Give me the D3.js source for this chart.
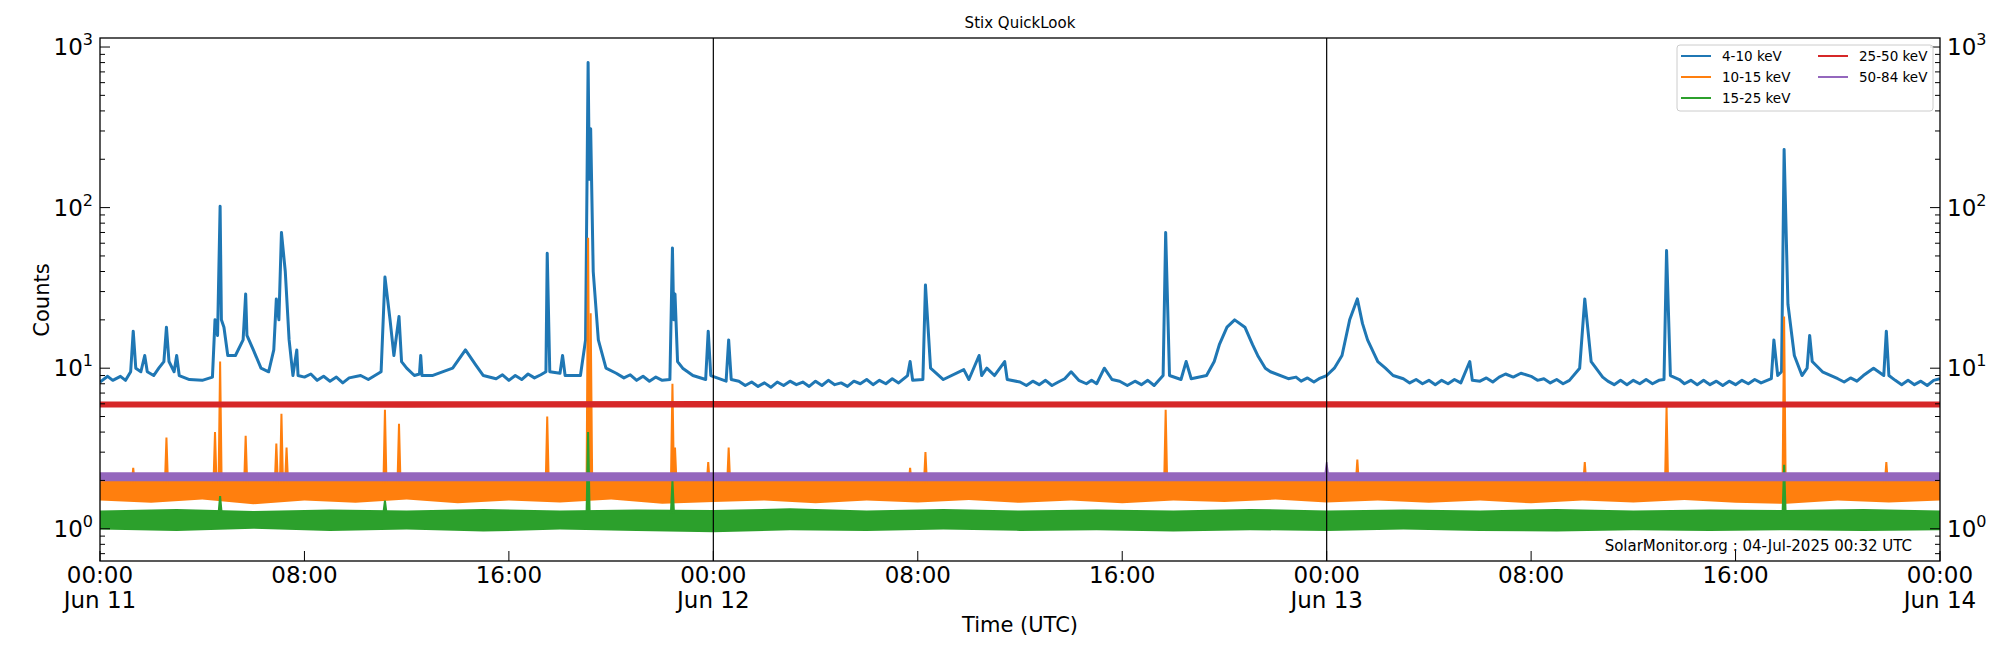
<!DOCTYPE html>
<html><head><meta charset="utf-8">
<script src="https://cdn.jsdelivr.net/npm/d3@7"></script>
<style>body{margin:0;background:#fff}svg{font-family:"DejaVu Sans",sans-serif}</style>
</head><body><svg id="c" width="2000" height="650"></svg>
<script>
const xTickHours=[0,8,16,24,32,40,48,56,64,72];
const xTickLabels=["00:00\nJun 11","08:00","16:00","00:00\nJun 12","08:00","16:00","00:00\nJun 13","08:00","16:00","00:00\nJun 14"];
const dayLines=[24,48];
const seriesNames=["4-10 keV","10-15 keV","15-25 keV","25-50 keV","50-84 keV"];
const seriesColors=["#1f77b4","#ff7f0e","#2ca02c","#d62728","#9467bd"];
// 4-10 keV events [hour, counts]
const blueEvents=[[0,8.2],[0.3,8.9],[0.5,8.4],[0.8,8.9],[1.0,8.4],[1.2,9.5],[1.3,17],[1.4,10],[1.6,9.5],[1.75,12],[1.85,9.5],[2.1,9],[2.3,10],[2.5,11],[2.6,18],[2.7,11],[2.9,9.5],[3.0,12],[3.1,9],[3.5,8.5],[4.0,8.4],[4.4,8.8],[4.5,20],[4.6,16],[4.7,102],[4.75,20],[4.85,18],[5.0,12],[5.3,12],[5.6,15],[5.7,29],[5.75,16],[6.0,13],[6.3,10],[6.6,9.5],[6.8,13],[6.9,27],[7.0,20],[7.1,70],[7.25,40],[7.4,15],[7.55,9],[7.7,13],[7.75,9],[10.2,9],[10.5,8.5],[11.0,9.5],[11.15,37],[11.35,20],[11.5,12],[11.7,21],[11.8,11],[12.0,10],[12.3,9],[12.5,9.2],[12.55,12],[12.6,9],[13,9],[13.8,10],[14.3,13],[14.7,10.5],[15,9],[17.45,9.5],[17.5,52],[17.6,9.5],[18,9.3],[18.1,12],[18.2,9],[18.8,9],[19.0,15],[19.1,800],[19.15,150],[19.2,310],[19.3,40],[19.5,15],[19.8,10],[22.3,8.5],[22.4,56],[22.45,20],[22.5,29],[22.6,11],[22.8,10],[23.2,9],[23.7,8.5],[23.8,17],[23.9,9],[24.5,8.3],[24.6,15],[24.7,8.5],[31.6,9],[31.7,11],[31.8,8.4],[32.2,8.5],[32.3,33],[32.5,10],[33,8.5],[33.8,9.8],[34,8.5],[34.4,12],[34.5,9],[34.7,10],[35,9],[35.4,11],[35.5,8.5],[38,9.5],[38.3,8.4],[39.3,10],[39.6,8.5],[41.6,9],[41.7,70],[41.85,9],[42.3,8.5],[42.5,11],[42.7,8.6],[43.3,9],[43.6,11],[43.8,14],[44.1,18],[44.4,20],[44.8,18],[45.1,14],[45.3,12],[45.6,10],[45.8,9.5],[46.5,8.6],[47.7,8.6],[48,9],[48.3,10],[48.6,12],[48.9,20],[49.2,27],[49.4,19],[49.6,15],[50,11],[50.3,10],[50.6,9],[53.6,11],[53.7,8.4],[55,9.2],[55.6,9.3],[57.9,10],[58.1,27],[58.35,11],[58.8,8.8],[61.2,8.5],[61.3,54],[61.45,9],[65.4,8.6],[65.5,15],[65.65,9],[65.8,9.5],[65.9,230],[66.05,25],[66.3,12],[66.6,9],[66.8,10],[66.9,16],[67.0,11],[67.4,9.5],[68,8.6],[69.0,9],[69.4,10],[69.8,9],[69.9,17],[70.0,9]];
// 4-10 keV quiet-time readings [hour, counts]
const blueQuiet=[[8.0,8.8],[8.25,9.2],[8.5,8.4],[8.75,8.9],[9.0,8.3],[9.25,8.8],[9.5,8.1],[9.75,8.7],[15.5,8.6],[15.75,9.1],[16,8.4],[16.25,9],[16.5,8.5],[16.75,9.2],[17,8.7],[17.25,9.1],[20.2,9.3],[20.5,8.7],[20.75,9.1],[21,8.4],[21.25,8.9],[21.5,8.3],[21.75,8.8],[22,8.4],[25,8.3],[25.25,7.8],[25.5,8.2],[25.75,7.7],[26,8.1],[26.25,7.6],[26.5,8.2],[26.75,7.8],[27,8.3],[27.25,7.9],[27.5,8.2],[27.75,7.7],[28,8.3],[28.25,7.8],[28.5,8.4],[28.75,7.9],[29,8.1],[29.25,7.7],[29.5,8.3],[29.75,8],[30,8.5],[30.25,7.9],[30.5,8.4],[30.75,8],[31,8.6],[31.25,8.1],[36,8.2],[36.25,7.8],[36.5,8.3],[36.75,7.9],[37,8.4],[37.25,7.8],[37.5,8.2],[37.75,8.6],[38.6,8.0],[38.8,8.4],[39,8.0],[39.9,8.3],[40.2,7.8],[40.5,8.3],[40.75,7.9],[41,8.4],[41.25,7.8],[46.8,8.8],[47,8.3],[47.25,8.7],[47.5,8.2],[51,8.6],[51.25,8.1],[51.5,8.5],[51.75,8.0],[52,8.4],[52.25,7.9],[52.5,8.4],[52.75,8.0],[53,8.5],[53.25,8.1],[54,8.3],[54.25,8.7],[54.5,8.2],[54.75,8.8],[55.3,8.8],[56,8.9],[56.25,8.4],[56.5,8.6],[56.75,8.1],[57,8.5],[57.25,8.0],[57.5,8.4],[59,8.3],[59.25,7.9],[59.5,8.4],[59.75,7.9],[60,8.4],[60.25,8.0],[60.5,8.5],[60.75,8.0],[61,8.4],[61.8,8.5],[62,8.0],[62.25,8.4],[62.5,7.9],[62.75,8.4],[63,7.9],[63.25,8.3],[63.5,7.8],[63.75,8.3],[64,7.9],[64.25,8.4],[64.5,8.0],[64.75,8.5],[65,8.1],[68.25,8.2],[68.5,8.7],[68.75,8.3],[70.25,8.4],[70.5,7.9],[70.75,8.4],[71,7.9],[71.25,8.3],[71.5,7.8],[71.75,8.4],[72,8.6]];
// noise envelopes [hour, low, high]
const orangeBand=[[0,1.5,2.05],[2,1.45,2.05],[4,1.52,2.05],[6,1.42,2.05],[8,1.5,2.05],[10,1.45,2.05],[12,1.52,2.05],[14,1.44,2.05],[16,1.5,2.05],[18,1.46,2.05],[20,1.52,2.05],[22,1.43,2.05],[24,1.47,2.05],[26,1.5,2.05],[28,1.44,2.05],[30,1.5,2.05],[32,1.46,2.05],[34,1.51,2.05],[36,1.45,2.05],[38,1.5,2.05],[40,1.44,2.05],[42,1.5,2.05],[44,1.47,2.05],[46,1.52,2.05],[48,1.46,2.05],[50,1.5,2.05],[52,1.45,2.05],[54,1.5,2.05],[56,1.44,2.05],[58,1.5,2.05],[60,1.46,2.05],[62,1.51,2.05],[64,1.45,2.05],[66,1.43,2.05],[68,1.5,2.05],[70,1.46,2.05],[72,1.5,2.05]];
const greenBand=[[0,0.99,1.3],[3,0.97,1.33],[6,1.0,1.29],[9,0.97,1.32],[12,0.99,1.3],[15,0.96,1.33],[18,0.99,1.3],[21,0.97,1.32],[24,0.95,1.31],[27,0.98,1.34],[30,0.97,1.3],[33,0.99,1.33],[36,0.97,1.3],[39,0.98,1.32],[42,0.96,1.3],[45,0.98,1.33],[48,0.97,1.3],[51,0.99,1.32],[54,0.97,1.3],[57,0.96,1.33],[60,0.98,1.3],[63,0.97,1.32],[66,0.98,1.31],[69,0.97,1.33],[72,0.98,1.3]];
const redBand=[[0,5.7,6.2],[12,5.68,6.22],[24,5.7,6.25],[36,5.7,6.2],[48,5.7,6.22],[60,5.68,6.2],[72,5.7,6.2]];
const purpleBand=[[0,1.98,2.25],[24,1.98,2.25],[48,1.98,2.25],[72,1.98,2.25]];
// spikes [hour, peak]
const orangeSpikes=[[1.3,2.4],[2.6,3.7],[4.5,4],[4.7,11],[5.7,3.8],[6.9,3.4],[7.1,5.2],[7.3,3.2],[11.15,5.5],[11.7,4.5],[17.5,5],[19.1,65],[19.2,22],[22.4,8],[22.5,3.2],[23.8,2.6],[24.6,3.2],[31.7,2.4],[32.3,3],[41.7,5.5],[49.2,2.7],[58.1,2.6],[61.3,5.8],[65.9,21],[69.9,2.6]];
const greenSpikes=[[4.7,1.6],[11.15,1.5],[19.1,4],[22.4,2],[65.9,2.5]];
const purpleSpikes=[[48,2.6]];

const blue=blueEvents.concat(blueQuiet).sort((a,b)=>a[0]-b[0]);
const svg=d3.select("#c");
const L=100,R=1940,T=38,B=561;
const x=d3.scaleLinear().domain([0,72]).range([L,R]);
const y=d3.scaleLog().domain([0.63,1138]).range([B,T]);
const g=svg.append("g");
g.append("defs").append("clipPath").attr("id","cp").append("rect").attr("x",L).attr("y",T).attr("width",R-L).attr("height",B-T);
const plot=g.append("g").attr("clip-path","url(#cp)");
const area=d3.area().x(d=>x(d[0])).y0(d=>y(d[1])).y1(d=>y(d[2]));
const line=d3.line().x(d=>x(d[0])).y(d=>y(d[1]));
function spikes(arr,base,color,w){
  arr.forEach(d=>{plot.append("path").attr("d",line([[d[0]-0.06,base],[d[0],d[1]],[d[0]+0.06,base]])).attr("fill",color).attr("stroke",color).attr("stroke-width",w);});
}
plot.append("path").attr("d",line(blue)).attr("fill","none").attr("stroke",seriesColors[0]).attr("stroke-width",3).attr("stroke-linejoin","round");
plot.append("path").attr("d",area(orangeBand)).attr("fill",seriesColors[1]);
spikes(orangeSpikes,1.9,seriesColors[1],2);
plot.append("path").attr("d",area(greenBand)).attr("fill",seriesColors[2]);
spikes(greenSpikes,1.25,seriesColors[2],2);
plot.append("path").attr("d",area(redBand)).attr("fill",seriesColors[3]);
plot.append("path").attr("d",area(purpleBand)).attr("fill",seriesColors[4]);
spikes(purpleSpikes,2.2,seriesColors[4],1.5);
dayLines.forEach(h=>g.append("line").attr("x1",x(h)).attr("x2",x(h)).attr("y1",T).attr("y2",B).attr("stroke","#000").attr("stroke-width",1.2));
g.append("rect").attr("x",L).attr("y",T).attr("width",R-L).attr("height",B-T).attr("fill","none").attr("stroke","#000").attr("stroke-width",1.3);
const majors=[1,10,100,1000];
const minors=[];
for(let e=-1;e<=3;e++)for(let k=2;k<=9;k++){const v=k*Math.pow(10,e);if(v>=0.63&&v<=1138)minors.push(v);}
[[L,1],[R,-1]].forEach(([x0,s])=>{
  majors.forEach(v=>g.append("line").attr("x1",x0).attr("x2",x0+s*10).attr("y1",y(v)).attr("y2",y(v)).attr("stroke","#000"));
  minors.forEach(v=>g.append("line").attr("x1",x0).attr("x2",x0+s*5).attr("y1",y(v)).attr("y2",y(v)).attr("stroke","#000"));
});
majors.forEach((v,i)=>{
  const tl=g.append("text").attr("x",L-7).attr("y",y(v)+8).attr("text-anchor","end").attr("font-size",23);
  tl.append("tspan").text("10");tl.append("tspan").attr("dy",-10).attr("font-size",16).text(i);
  const tr=g.append("text").attr("x",R+7).attr("y",y(v)+8).attr("font-size",23);
  tr.append("tspan").text("10");tr.append("tspan").attr("dy",-10).attr("font-size",16).text(i);
});
xTickHours.forEach((h,i)=>{
  g.append("line").attr("x1",x(h)).attr("x2",x(h)).attr("y1",B).attr("y2",B-10).attr("stroke","#000");
  xTickLabels[i].split("\n").forEach((s,j)=>g.append("text").attr("x",x(h)).attr("y",583+j*25).attr("text-anchor","middle").attr("font-size",23).text(s));
});
svg.append("text").attr("x",(L+R)/2).attr("y",28).attr("text-anchor","middle").attr("font-size",15).text("Stix QuickLook");
svg.append("text").attr("x",(L+R)/2).attr("y",632).attr("text-anchor","middle").attr("font-size",21).text("Time (UTC)");
svg.append("text").attr("transform","translate(49,300) rotate(-90)").attr("text-anchor","middle").attr("font-size",21).text("Counts");
svg.append("text").attr("x",1912).attr("y",551).attr("text-anchor","end").attr("font-size",15).text("SolarMonitor.org : 04-Jul-2025 00:32 UTC");
const lg=svg.append("g");
lg.append("rect").attr("x",1677).attr("y",45).attr("width",256).attr("height",66).attr("rx",3).attr("fill","#fff").attr("fill-opacity",0.85).attr("stroke","#ccc");
const pos=[[0,0],[0,1],[0,2],[1,0],[1,1]];
seriesNames.forEach((n,i)=>{
  const cx=pos[i][0]?1818:1681, cy=56+pos[i][1]*21;
  lg.append("line").attr("x1",cx).attr("x2",cx+30).attr("y1",cy).attr("y2",cy).attr("stroke",seriesColors[i]).attr("stroke-width",2);
  lg.append("text").attr("x",cx+41).attr("y",cy+5).attr("font-size",13.5).text(n);
});
</script></body></html>
